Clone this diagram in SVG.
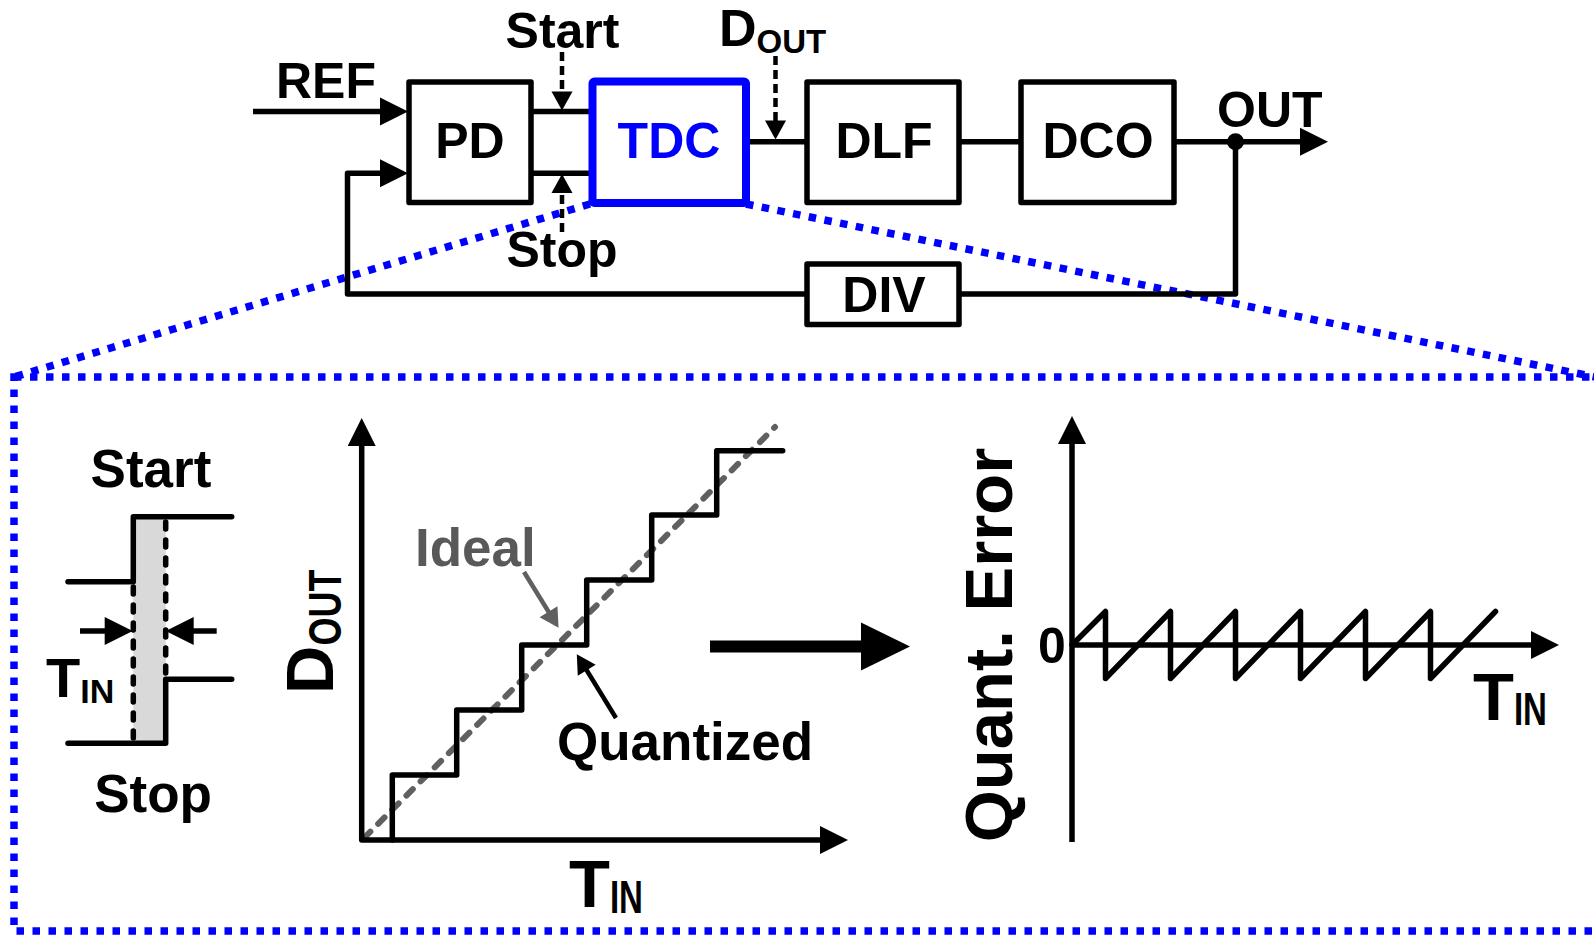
<svg xmlns="http://www.w3.org/2000/svg" width="1594" height="935" viewBox="0 0 1594 935">
<style>
text{font-family:"Liberation Sans",Arial,Helvetica,sans-serif;font-weight:bold;fill:#000}
.t50{font-size:50px}
.t53{font-size:53px}
.mid{text-anchor:middle}
.box{fill:#fff;stroke:#000;stroke-width:5.5;stroke-linejoin:round}
.tdc{fill:#fff;stroke:#0000ff;stroke-width:8;stroke-linejoin:round}
.ln{fill:none;stroke:#000;stroke-width:5.5;stroke-linejoin:round;stroke-linecap:round}
.lnb{fill:none;stroke:#000;stroke-width:5.5;stroke-linejoin:round;stroke-linecap:butt}
.dsh{fill:none;stroke:#000;stroke-width:4.5;stroke-dasharray:9 5}
.dot{fill:none;stroke:#0000ff;stroke-width:7.5;stroke-dasharray:7.5 8.5}
.wdash{fill:none;stroke:#000;stroke-width:5.5;stroke-linecap:round;stroke-dasharray:7 11}
.ideal{fill:none;stroke:#606060;stroke-width:6;stroke-linecap:round;stroke-dasharray:9 11}
.thin{fill:none;stroke:#000;stroke-width:4.5}
.thing{fill:none;stroke:#606060;stroke-width:4.5}
</style>
<defs>
<marker id="ah" markerUnits="userSpaceOnUse" orient="auto-start-reverse" refX="17" refY="0" markerWidth="30" markerHeight="30" overflow="visible"><path d="M0,-14 L28,0 L0,14 z" fill="#000"/></marker>
<marker id="ahs" markerUnits="userSpaceOnUse" orient="auto" refX="10" refY="0" markerWidth="20" markerHeight="20" overflow="visible"><path d="M0,-10.5 L19,0 L0,10.5 z" fill="#000"/></marker>
<marker id="ahg" markerUnits="userSpaceOnUse" orient="auto" refX="10" refY="0" markerWidth="20" markerHeight="20" overflow="visible"><path d="M0,-10.5 L19,0 L0,10.5 z" fill="#606060"/></marker>
<marker id="ahb" markerUnits="userSpaceOnUse" orient="auto" refX="10" refY="0" markerWidth="50" markerHeight="50" overflow="visible"><path d="M0,-24 L49,0 L0,24 z" fill="#000"/></marker>
</defs>

<!-- zoom frame (blue dotted) -->
<g id="zoom-frame">
<path class="dot" d="M590,204 L14,377"/>
<path class="dot" d="M746,204 L1600,378"/>
<rect class="dot" x="14" y="377" width="1600" height="554"/>
</g>

<!-- connectors -->
<g id="connectors">
<path class="lnb" d="M253,111.5 H397" marker-end="url(#ah)"/>
<path class="ln" d="M531,111.5 H592"/>
<path class="ln" d="M531,173.3 H592"/>
<path class="ln" d="M746,141.7 H807"/>
<path class="ln" d="M959,141.7 H1021"/>
<path class="lnb" d="M1174,141.7 H1317" marker-end="url(#ah)"/>
<path class="ln" d="M1235.5,141.7 V294 H959"/>
<path class="lnb" d="M807,294 H347.5 V173.3 H397" marker-end="url(#ah)"/>
<circle cx="1235.5" cy="141.7" r="8.5" fill="#000"/>
<path class="dsh" d="M562,52 V101.5" marker-end="url(#ahs)"/>
<path class="dsh" d="M562,232 V183" marker-end="url(#ahs)"/>
<path class="dsh" d="M775.5,56 V130.5" marker-end="url(#ahs)"/>
</g>

<!-- top labels -->
<g id="top-labels">
<text class="t50" x="276" y="98">REF</text>
<text class="t50 mid" x="562.5" y="48">Start</text>
<text class="t50 mid" x="562" y="267">Stop</text>
<text x="719" y="46" font-size="52">D<tspan font-size="33" dy="7">OUT</tspan></text>
<text class="t50" x="1217" y="127">OUT</text>
</g>

<!-- nodes -->
<g id="node-pd"><rect class="box" x="409" y="82" width="122" height="120.5"/><text class="t50 mid" x="470" y="158">PD</text></g>
<g id="node-tdc"><rect class="tdc" x="592.5" y="81.5" width="153.5" height="121.5" rx="2"/><text class="t50 mid" x="669" y="158" style="fill:#0000ff">TDC</text></g>
<g id="node-dlf"><rect class="box" x="807" y="82" width="152" height="120.5"/><text class="t50 mid" x="884" y="158">DLF</text></g>
<g id="node-dco"><rect class="box" x="1021" y="82" width="153" height="120.5"/><text class="t50 mid" x="1098" y="158">DCO</text></g>
<g id="node-div"><rect class="box" x="807" y="264" width="152" height="60.5"/><text class="t50 mid" x="884" y="312">DIV</text></g>

<!-- start/stop waveform -->
<g id="waveform">
<rect x="133.3" y="516.7" width="32.4" height="226.6" fill="#d9d9d9"/>
<path class="wdash" d="M133.3,587 V743"/>
<path class="wdash" d="M165.7,522 V679"/>
<path class="ln" d="M68,581.7 H133.3 V516.7 H231.7"/>
<path class="ln" d="M68,743.3 H165.7 V679.3 H231.7"/>
<path class="lnb" d="M80,631 H121.7" marker-end="url(#ah)"/>
<path class="lnb" d="M216.7,631 H176.7" marker-end="url(#ah)"/>
<text class="t53 mid" x="151" y="487">Start</text>
<text class="t53 mid" x="153" y="812">Stop</text>
<text x="46" y="697" font-size="56">T<tspan font-size="34" dy="6">IN</tspan></text>
</g>

<!-- transfer curve -->
<g id="transfer-plot">
<path class="ideal" d="M364,838 L775,427"/>
<path class="lnb" d="M361.7,429 V840 H837" marker-start="url(#ah)" marker-end="url(#ah)"/>
<path class="ln" d="M392.3,840 V775 H456.7 V710 H521.7 V645 H586.7 V580 H651.7 V515 H716.7 V450.7 H782.7"/>
<path class="thing" d="M524,572 L553.8,620.2" marker-end="url(#ahg)"/>
<path class="thin" d="M616,718 L581.5,661.8" marker-end="url(#ahs)"/>
<text class="t53" x="415" y="566" style="fill:#595959">Ideal</text>
<text class="t53" x="557" y="760">Quantized</text>
<text x="569" y="907" font-size="67">T<tspan font-size="46" dy="6" textLength="33" lengthAdjust="spacingAndGlyphs">IN</tspan></text>
<text transform="translate(333,694) rotate(-90)" font-size="67">D<tspan font-size="46" dy="8" textLength="76" lengthAdjust="spacingAndGlyphs">OUT</tspan></text>
</g>

<!-- big arrow -->
<g id="big-arrow">
<path d="M710,646.5 H871" fill="none" stroke="#000" stroke-width="12" marker-end="url(#ahb)"/>
</g>

<!-- quantization error plot -->
<g id="error-plot">
<path class="lnb" d="M1072,842 V427" marker-end="url(#ah)"/>
<path class="lnb" d="M1072,645 H1548" marker-end="url(#ah)"/>
<path class="ln" d="M1072,645 L1105.5,611.5 V678.5 L1170.5,611.5 V678.5 L1235.5,611.5 V678.5 L1300.5,611.5 V678.5 L1365.5,611.5 V678.5 L1430.5,611.5 V678.5 L1495.5,611.5"/>
<text x="1038" y="663" font-size="50">0</text>
<text class="mid" transform="translate(1012,645) rotate(-90)" font-size="67">Quant. Error</text>
<text x="1473" y="720" font-size="67">T<tspan font-size="46" dy="5" textLength="33" lengthAdjust="spacingAndGlyphs">IN</tspan></text>
</g>
</svg>
